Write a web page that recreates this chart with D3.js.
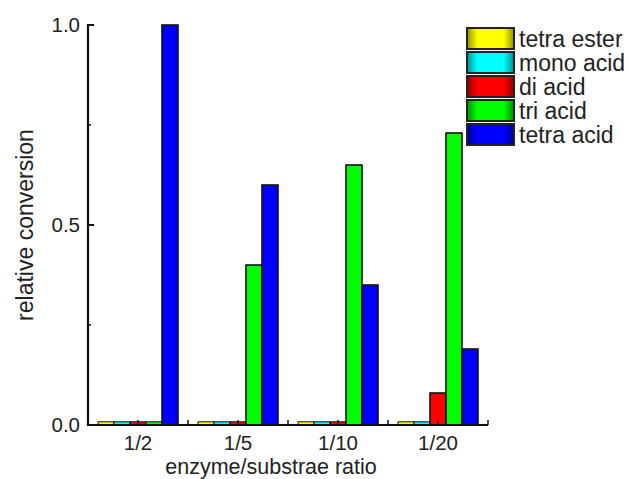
<!DOCTYPE html>
<html>
<head>
<meta charset="utf-8">
<script src="https://cdn.jsdelivr.net/npm/d3@7"></script>
<style>
  html, body { margin: 0; padding: 0; background: #fff; }
  text { font-family: Arial, "Liberation Sans", sans-serif; fill: #222; }
</style>
</head>
<body>
<svg id="chart" width="629" height="479"></svg>
<script>
const categories = ["1/2", "1/5", "1/10", "1/20"];
const seriesNames = ["tetra ester", "mono acid", "di acid", "tri acid", "tetra acid"];
const seriesColors = ["#ffff00", "#00ffff", "#ff0000", "#00ff00", "#0000ff"];
const tetraEster = [0.008, 0.008, 0.008, 0.008];
const monoAcid   = [0.008, 0.008, 0.008, 0.008];
const diAcid     = [0.008, 0.008, 0.008, 0.08];
const triAcid    = [0.008, 0.40, 0.65, 0.73];
const tetraAcid  = [1.00, 0.60, 0.35, 0.19];
const seriesValues = [tetraEster, monoAcid, diAcid, triAcid, tetraAcid];
const yTicks = [0, 0.5, 1.0];
const yMinorTicks = [0.25, 0.75];

(function () {
const svg = d3.select("#chart");
const mL = 88, mR = 488, mT = 25, mB = 425;

const x0 = d3.scaleBand().domain(categories).range([mL, mR]).paddingInner(0.2).paddingOuter(0.1);
const x1 = d3.scaleBand().domain(seriesNames).range([0, x0.bandwidth()]);
const y = d3.scaleLinear().domain([0, 1]).range([mB, mT]);

// gradients for legend
const defs = svg.append("defs");
seriesNames.forEach((s, i) => {
  const c = d3.color(seriesColors[i]);
  const g = defs.append("linearGradient").attr("id", "lg" + i).attr("x1", "0%").attr("x2", "100%");
  g.append("stop").attr("offset", "0%").attr("stop-color", c.darker(1.6));
  g.append("stop").attr("offset", "22%").attr("stop-color", c);
  g.append("stop").attr("offset", "78%").attr("stop-color", c);
  g.append("stop").attr("offset", "100%").attr("stop-color", c.darker(1.6));
});

// bars
const rows = [];
categories.forEach((cat, ci) => {
  seriesNames.forEach((s, si) => rows.push({ cat, s, si, v: seriesValues[si][ci] }));
});
svg.append("g").selectAll("rect").data(rows).join("rect")
  .attr("x", d => x0(d.cat) + x1(d.s))
  .attr("y", d => y(d.v))
  .attr("width", x1.bandwidth())
  .attr("height", d => y(0) - y(d.v))
  .attr("fill", d => seriesColors[d.si])
  .attr("stroke", "#111")
  .attr("stroke-width", d => (y(0) - y(d.v)) < 6 ? 1 : 1.6);

// x axis
const step = x0.step();
const xTickPos = [];
for (let i = 0; i <= categories.length; i++) xTickPos.push(mL + i * step);
const xAxis = svg.append("g");
xAxis.append("line").attr("x1", mL).attr("x2", mR).attr("y1", mB).attr("y2", mB)
  .attr("stroke", "#111").attr("stroke-width", 2.2);
xAxis.selectAll(".bt").data(xTickPos).join("line")
  .attr("x1", d => d).attr("x2", d => d).attr("y1", mB).attr("y2", mB - 5)
  .attr("stroke", "#111").attr("stroke-width", 1.5);
xAxis.selectAll(".ct").data(categories).join("line")
  .attr("x1", d => x0(d) + x0.bandwidth() / 2).attr("x2", d => x0(d) + x0.bandwidth() / 2)
  .attr("y1", mB).attr("y2", mB - 5)
  .attr("stroke", "#111").attr("stroke-width", 1.5);
xAxis.selectAll("text").data(categories).join("text")
  .attr("x", d => x0(d) + x0.bandwidth() / 2)
  .attr("y", 450)
  .attr("text-anchor", "middle")
  .attr("font-size", 20.5)
  .text(d => d);

// y axis
const yAxis = svg.append("g");
yAxis.append("line").attr("x1", mL).attr("x2", mL).attr("y1", mT - 1).attr("y2", mB + 1)
  .attr("stroke", "#111").attr("stroke-width", 2.2);
yAxis.selectAll(".mt").data(yTicks).join("line")
  .attr("x1", mL).attr("x2", mL + 6).attr("y1", d => y(d)).attr("y2", d => y(d))
  .attr("stroke", "#111").attr("stroke-width", 2);
yAxis.selectAll(".nt").data(yMinorTicks).join("line")
  .attr("x1", mL).attr("x2", mL + 3).attr("y1", d => y(d)).attr("y2", d => y(d))
  .attr("stroke", "#111").attr("stroke-width", 1.5);
yAxis.selectAll("text").data(yTicks).join("text")
  .attr("x", 80)
  .attr("y", d => y(d) + 7)
  .attr("text-anchor", "end")
  .attr("font-size", 20.5)
  .text(d3.format(".1f"));

// axis titles
svg.append("text")
  .attr("transform", "translate(33,225) rotate(-90)")
  .attr("text-anchor", "middle")
  .attr("font-size", 23)
  .text("relative conversion");
svg.append("text")
  .attr("x", 271).attr("y", 474)
  .attr("text-anchor", "middle")
  .attr("font-size", 21.5)
  .text("enzyme/substrae ratio");

// legend
const lg = svg.append("g");
const items = lg.selectAll("g").data(seriesNames).join("g")
  .attr("transform", (d, i) => `translate(467,${28 + i * 24})`);
items.append("rect").attr("width", 47).attr("height", 21)
  .attr("fill", (d, i) => `url(#lg${i})`)
  .attr("stroke", "#222").attr("stroke-width", 2);
items.append("text").attr("x", 52).attr("y", 19)
  .attr("font-size", 23)
  .text(d => d);
})();
</script>
</body>
</html>
